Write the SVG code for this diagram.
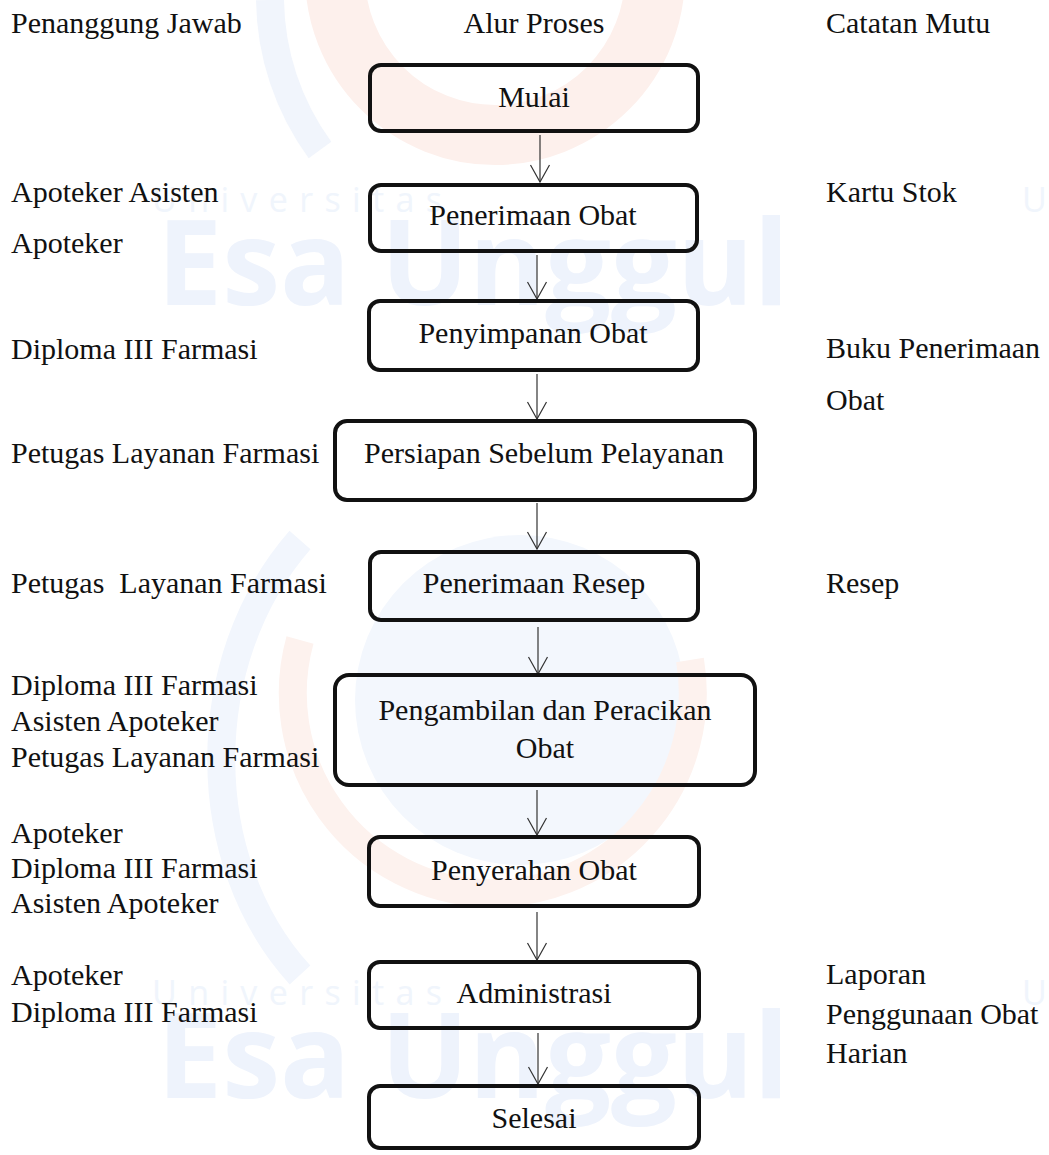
<svg xmlns="http://www.w3.org/2000/svg" width="1049" height="1155" viewBox="0 0 1049 1155">
<style>
.t{font-family:"Liberation Serif","Times New Roman",serif;font-size:30px;fill:#111;}
.c{text-anchor:middle;}
.box{fill:none;stroke:#111;stroke-width:4;}
.ln{fill:none;stroke:#333;stroke-width:1.2;}
.wmB{font-family:"Open Sans","Liberation Sans",sans-serif;font-weight:bold;font-size:118px;fill:#eef3fc;}
.wmU{font-family:"Open Sans","Liberation Sans",sans-serif;font-size:34px;fill:#f0f5fc;}
</style>
<defs>
<marker id="ah" markerUnits="userSpaceOnUse" markerWidth="40" markerHeight="40" viewBox="-20 -20 40 40" refX="0" refY="0" orient="auto" overflow="visible">
<path d="M-17,-9.5 L0,0 L-17,9.5" fill="none" stroke="#333" stroke-width="1.2"/>
</marker>
</defs>
<rect width="1049" height="1155" fill="#ffffff"/>
<g id="watermark">
<circle cx="495" cy="-25" r="160" fill="none" stroke="#fdf0ec" stroke-width="60"/>
<path d="M270,0 A260,260 0 0 0 320,150" fill="none" stroke="#f1f5fc" stroke-width="28"/>
<circle cx="520" cy="700" r="165" fill="#f3f7fd"/>
<path d="M300,640 A200,200 0 1 0 690,660" fill="none" stroke="#fdf2ee" stroke-width="28"/>
<path d="M300,540 C195,660 195,860 300,975" fill="none" stroke="#f2f6fd" stroke-width="28"/>
<text class="wmU" x="152" y="212" textLength="290" lengthAdjust="spacing">Universitas</text>
<text class="wmB" x="157" y="305" textLength="632" lengthAdjust="spacingAndGlyphs">Esa Unggul</text>
<text class="wmU" x="1022" y="212">U</text>
<text class="wmU" x="152" y="1005" textLength="290" lengthAdjust="spacing">Universitas</text>
<text class="wmB" x="157" y="1098" textLength="632" lengthAdjust="spacingAndGlyphs">Esa Unggul</text>
<text class="wmU" x="1022" y="1005">U</text>
</g>
<g id="headers">
<text class="t" x="11" y="33">Penanggung Jawab</text>
<text class="t c" x="534" y="33">Alur Proses</text>
<text class="t" x="826" y="33">Catatan Mutu</text>
</g>
<g id="penanggung-jawab">
<text class="t" x="11" y="202">Apoteker Asisten</text>
<text class="t" x="11" y="253">Apoteker</text>
<text class="t" x="11" y="359">Diploma III Farmasi</text>
<text class="t" x="11" y="463">Petugas Layanan Farmasi</text>
<text class="t" x="11" y="593" xml:space="preserve">Petugas  Layanan Farmasi</text>
<text class="t" x="11" y="695">Diploma III Farmasi</text>
<text class="t" x="11" y="731">Asisten Apoteker</text>
<text class="t" x="11" y="767">Petugas Layanan Farmasi</text>
<text class="t" x="11" y="843">Apoteker</text>
<text class="t" x="11" y="878">Diploma III Farmasi</text>
<text class="t" x="11" y="913">Asisten Apoteker</text>
<text class="t" x="11" y="985">Apoteker</text>
<text class="t" x="11" y="1022">Diploma III Farmasi</text>
</g>
<g id="catatan-mutu">
<text class="t" x="826" y="202">Kartu Stok</text>
<text class="t" x="826" y="358">Buku Penerimaan</text>
<text class="t" x="826" y="410">Obat</text>
<text class="t" x="826" y="593">Resep</text>
<text class="t" x="826" y="984">Laporan</text>
<text class="t" x="826" y="1024">Penggunaan Obat</text>
<text class="t" x="826" y="1063">Harian</text>
</g>
<g id="connectors">
<line class="ln" x1="540" y1="135" x2="540" y2="182" marker-end="url(#ah)"/>
<line class="ln" x1="537" y1="255" x2="537" y2="299" marker-end="url(#ah)"/>
<line class="ln" x1="537" y1="374" x2="537" y2="419" marker-end="url(#ah)"/>
<line class="ln" x1="537" y1="503" x2="537" y2="549" marker-end="url(#ah)"/>
<line class="ln" x1="538" y1="627" x2="538" y2="674" marker-end="url(#ah)"/>
<line class="ln" x1="537" y1="790" x2="537" y2="835" marker-end="url(#ah)"/>
<line class="ln" x1="537" y1="912" x2="537" y2="960" marker-end="url(#ah)"/>
<line class="ln" x1="538" y1="1033" x2="538" y2="1084" marker-end="url(#ah)"/>
</g>
<g id="mulai">
<rect class="box" x="370" y="65" width="328" height="66" rx="11"/>
<text class="t c" x="534" y="107">Mulai</text>
</g>
<g id="penerimaan-obat">
<rect class="box" x="370" y="185" width="327" height="66" rx="11"/>
<text class="t c" x="533" y="225">Penerimaan Obat</text>
</g>
<g id="penyimpanan-obat">
<rect class="box" x="369" y="301" width="329" height="69" rx="11"/>
<text class="t c" x="533" y="343">Penyimpanan Obat</text>
</g>
<g id="persiapan">
<rect class="box" x="335" y="421" width="420" height="79" rx="12"/>
<text class="t c" x="544" y="463">Persiapan Sebelum Pelayanan</text>
</g>
<g id="penerimaan-resep">
<rect class="box" x="370" y="552" width="328" height="68" rx="11"/>
<text class="t c" x="534" y="593">Penerimaan Resep</text>
</g>
<g id="pengambilan">
<rect class="box" x="335" y="675" width="420" height="110" rx="14"/>
<text class="t c" x="545" y="720">Pengambilan dan Peracikan</text>
<text class="t c" x="545" y="758">Obat</text>
</g>
<g id="penyerahan-obat">
<rect class="box" x="369" y="837" width="330" height="69" rx="11"/>
<text class="t c" x="534" y="880">Penyerahan Obat</text>
</g>
<g id="administrasi">
<rect class="box" x="369" y="962" width="330" height="66" rx="11"/>
<text class="t c" x="534" y="1003">Administrasi</text>
</g>
<g id="selesai">
<rect class="box" x="369" y="1086" width="330" height="62" rx="11"/>
<text class="t c" x="534" y="1128">Selesai</text>
</g>
</svg>
